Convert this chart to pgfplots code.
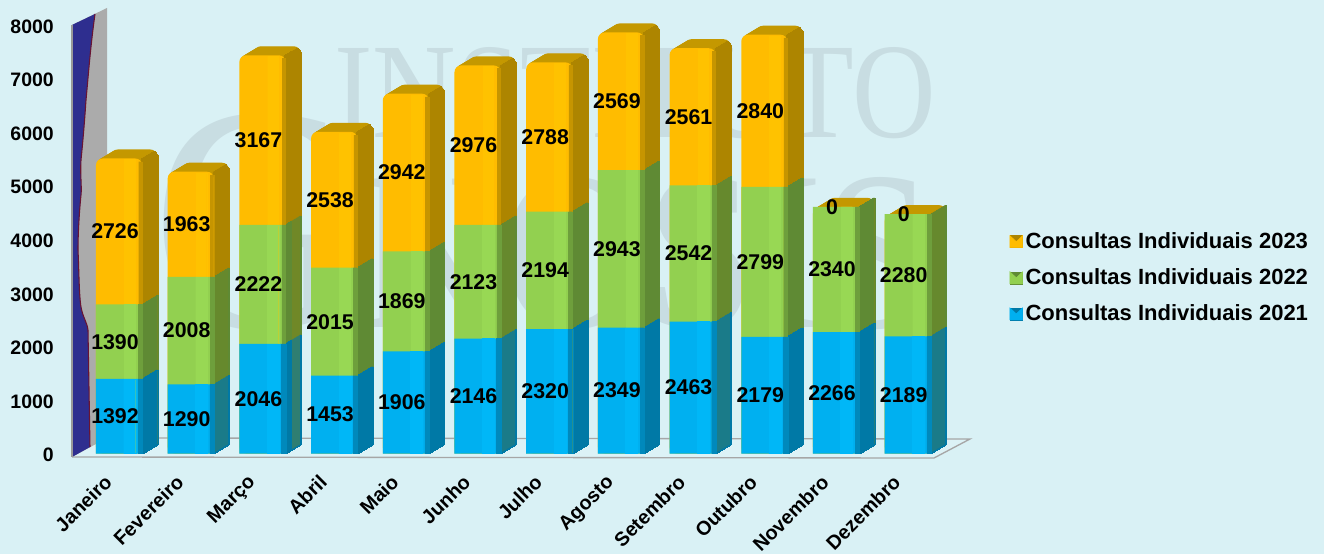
\documentclass[border=0pt]{standalone}
\usepackage{pgfplots}
\usepackage{pgfplotstable}
\usepackage{fontspec}
\setmainfont{Liberation Sans}
\newfontfamily\wmfont{Liberation Serif}
\pgfplotsset{compat=1.18}
\definecolor{bgc}{HTML}{D9F1F5}
\definecolor{wmc}{HTML}{C8DDE2}
\definecolor{yf}{HTML}{FFBC00}
\definecolor{yh}{HTML}{FFC200}
\definecolor{ys}{HTML}{AD8500}
\definecolor{yc}{HTML}{C49800}
\definecolor{gf}{HTML}{92D050}
\definecolor{gh}{HTML}{98D854}
\definecolor{gs}{HTML}{5F8A34}
\definecolor{bf}{HTML}{00B0F0}
\definecolor{bh}{HTML}{00B7F7}
\definecolor{bs}{HTML}{0079A6}
\pgfplotstableread{
i a b c
0 1392 1390 2726
1 1290 2008 1963
2 2046 2222 3167
3 1453 2015 2538
4 1906 1869 2942
5 2146 2123 2976
6 2320 2194 2788
7 2349 2943 2569
8 2463 2542 2561
9 2179 2799 2840
10 2266 2340 0
11 2189 2280 0
}\vals
\pgfplotsset{
  fb/.style={ybar, bar shift=0pt, bar width=34.5pt, draw=none, forget plot},
  st/.style n args={3}{ybar, bar width=#1, bar shift=#2, fill=#3, draw=#3, line width=.25pt, forget plot},
  lab/.style={sharp plot, draw=none, mark=none, forget plot, point meta=explicit,
    nodes near coords, every node near coord/.append style={anchor=center, inner sep=0pt, xshift=-3pt, text=black,
    font=\fontsize{16}{16}\selectfont\bfseries, /pgf/number format/assume math mode=true,
    /pgf/number format/fixed, /pgf/number format/precision=0, /pgf/number format/1000 sep={}}},
}
\newcommand{\legbox}[2]{\addlegendimage{legend image code/.code={
  \fill[#2] (0pt,-4.5pt) rectangle (9.5pt,4.5pt);
  \fill[#1] (0pt,-4.5pt) -- (0pt,4.5pt) -- (4.75pt,0pt) -- (9.5pt,4.5pt) -- (9.5pt,-4.5pt) -- cycle;
}}}
\begin{document}
\begin{tikzpicture}
\useasboundingbox (0,0) rectangle (993pt,415.5pt);
\fill[bgc] (0,0) rectangle (993pt,415.5pt);
\begin{scope}[x=.75pt,y=-.75pt,yshift=415.5pt]
  % watermark
  \node[anchor=base west,inner sep=0pt,text=wmc,font=\wmfont\fontsize{102}{102}\selectfont,xscale=.85] at (334,138) {INSTITUTO};
  \node[anchor=base west,inner sep=0pt,text=wmc,font=\wmfont\fontsize{242}{242}\selectfont,xscale=.88] at (152,327) {G{\fontsize{170}{170}\selectfont NOSIS}};
  % floor
  \fill[bgc!92!white] (72,457) -- (107,438) -- (970,439) -- (934,458) -- cycle;
  \draw[line width=1pt,color=black!35] (72,457) -- (934,458) -- (970,439) -- (107,438);
  % wall
  \fill[black!33] (72,25) -- (107,8) -- (107,438) -- (72,457) -- cycle;
  \fill[color={rgb,255:red,46;green,46;blue,143}] (72,25) -- (95,14)
     .. controls (90,50) and (88,80) .. (86,100)
     .. controls (84,130) and (82,150) .. (81,160)
     .. controls (80,175) and (82,187) .. (81,195)
     .. controls (79,215) and (78,235) .. (78,250)
     .. controls (79,270) and (79,295) .. (81,307)
     .. controls (83,318) and (87,322) .. (88,330)
     -- (90,447) -- (72,457) -- cycle;
  \draw[line width=.8pt,color={rgb,255:red,105;green,20;blue,50}] (95,14)
     .. controls (90,50) and (88,80) .. (86,100)
     .. controls (84,130) and (82,150) .. (81,160)
     .. controls (80,175) and (82,187) .. (81,195)
     .. controls (79,215) and (78,235) .. (78,250)
     .. controls (79,270) and (79,295) .. (81,307)
     .. controls (83,318) and (87,322) .. (88,330)
     -- (90,447);
  \draw[line width=.8pt,color=black!40] (72,25) -- (72,457);
\end{scope}
\begin{axis}[
  at={(54pt,75.375pt)}, anchor=south west, scale only axis,
  width=646.5pt, height=321.375pt,
  xmin=-0.6555, xmax=11.367, ymin=0, ymax=8000, clip=false,
  axis line style={draw=none}, major tick length=0pt,
  ytick={0,1000,...,8000}, xtick={0,...,11},
  xticklabels={Janeiro,Fevereiro,Março,Abril,Maio,Junho,Julho,Agosto,Setembro,Outubro,Novembro,Dezembro},
  /pgf/number format/1000 sep={},
  /pgf/number format/assume math mode=true,
  yticklabel style={font=\fontsize{14.6}{15}\selectfont\bfseries, inner sep=0pt, xshift=-13.5pt, yshift=-1.2pt},
  xticklabel style={font=\fontsize{14.8}{15}\selectfont\bfseries, rotate=45, anchor=north east, inner sep=0pt, xshift=-19pt, yshift=-2pt},
  legend style={at={(axis description cs:1.0875,0.522)}, anchor=north west, draw=none, fill=none,
    font=\fontsize{16.5}{16.5}\selectfont\bfseries, row sep=9.6pt, inner sep=0pt,
    /tikz/every even column/.append style={column sep=3pt}},
  legend cell align=left,
]
\legbox{yf}{ys}\addlegendentry{Consultas Individuais 2023}
\legbox{gf}{gs}\addlegendentry{Consultas Individuais 2022}
\legbox{bf}{bs}\addlegendentry{Consultas Individuais 2021}
% top face
\pgfplotsinvokeforeach{1,...,15}{
  \addplot[fb, fill=yc, rounded corners=5pt, xshift=#1*.75pt, yshift=#1*.45pt] table[x=i, y expr=\thisrow{a}+\thisrow{b}+\thisrow{c}]{\vals};
}
% side face
\pgfplotsinvokeforeach{0,...,15}{
  \addplot[st={1.1pt}{17.25pt}{ys}, xshift=#1*.75pt, yshift=#1*.45pt] table[x=i, y expr=\thisrow{a}+\thisrow{b}+\thisrow{c}-(#1>12)*(#1-12)*(\thisrow{c}>0)*35]{\vals};
  \addplot[st={1.1pt}{17.25pt}{gs}, xshift=#1*.75pt, yshift=#1*.45pt] table[x=i, y expr=\thisrow{a}+\thisrow{b}]{\vals};
  \addplot[st={1.1pt}{17.25pt}{bs}, xshift=#1*.75pt, yshift=#1*.45pt] table[x=i, y=a]{\vals};
}
% front face
\addplot[fb, fill=yf, rounded corners=5pt] table[x=i, y expr=\thisrow{a}+\thisrow{b}+\thisrow{c}]{\vals};
\addplot[fb, fill=gf] table[x=i, y expr=\thisrow{a}+\thisrow{b}]{\vals};
\addplot[fb, fill=bf] table[x=i, y=a]{\vals};
% lighter band on the front face
\addplot[st={8pt}{8pt}{yh}] table[x=i, y expr=\thisrow{a}+\thisrow{b}+\thisrow{c}-(\thisrow{c}>0)*20]{\vals};
\addplot[st={8.5pt}{8pt}{gh}] table[x=i, y expr=\thisrow{a}+\thisrow{b}]{\vals};
\addplot[st={9pt}{8pt}{bh}] table[x=i, y=a]{\vals};
% rounded edge towards the side
\addplot[st={2.5pt}{16pt}{ys!70!yf}] table[x=i, y expr=\thisrow{a}+\thisrow{b}+\thisrow{c}-(\thisrow{c}>0)*60]{\vals};
\addplot[st={2.9pt}{16pt}{gs!70!gf}] table[x=i, y expr=\thisrow{a}+\thisrow{b}]{\vals};
\addplot[st={3.3pt}{16pt}{bs!70!bf}] table[x=i, y=a]{\vals};
% value labels
\addplot[lab] table[x=i, y expr=\thisrow{a}/2, meta=a]{\vals};
\addplot[lab] table[x=i, y expr=\thisrow{a}+\thisrow{b}/2, meta=b]{\vals};
\addplot[lab] table[x=i, y expr=\thisrow{a}+\thisrow{b}+\thisrow{c}/2, meta=c]{\vals};
\end{axis}
\end{tikzpicture}
\end{document}
